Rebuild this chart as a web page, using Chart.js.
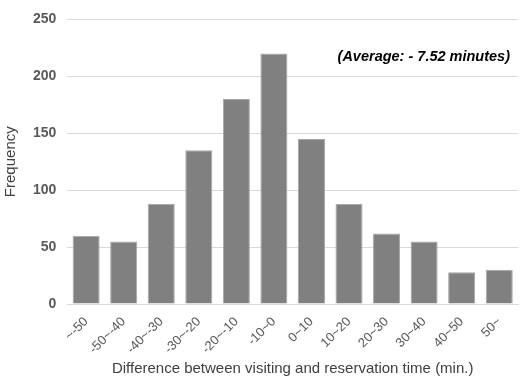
<!DOCTYPE html>
<html><head><meta charset="utf-8">
<script src="https://cdn.jsdelivr.net/npm/chart.js@4/dist/chart.umd.min.js"></script>
<style>html,body{margin:0;padding:0;background:#fff}#w{width:520px;height:381px}</style>
</head><body><div id="w"><canvas id="c"></canvas></div>
<script>
const categories = ["~-50","-50~-40","-40~-30","-30~-20","-20~-10","-10~0","0~10","10~20","20~30","30~40","40~50","50~"];
const frequency = [60,55,88,135,180,220,145,88,62,55,28,30];
const yTicks = [0,50,100,150,200,250];
const note = "(Average: - 7.52 minutes)";

const notePlugin = {
  id:'note',
  afterDatasetsDraw(chart){
    const {ctx, chartArea} = chart;
    ctx.save();
    ctx.font = 'italic bold 14.5px "Liberation Sans", Arial, sans-serif';
    ctx.fillStyle = '#000';
    ctx.textAlign = 'right';
    ctx.textBaseline = 'middle';
    ctx.fillText(note, chartArea.right - 8, chart.scales.y.getPixelForValue(217));
    ctx.restore();
  }
};

new Chart(document.getElementById('c'), {
  type:'bar',
  data:{labels:categories, datasets:[{data:frequency, backgroundColor:'#808080', borderColor:'#a6a6a6', borderWidth:1, barPercentage:0.72, categoryPercentage:1}]},
  options:{
    responsive:true, maintainAspectRatio:false, animation:false,
    layout:{padding:{left:2,right:2,top:4,bottom:3}},
    plugins:{legend:{display:false}, tooltip:{enabled:false}},
    scales:{
      x:{
        grid:{display:false},
        border:{color:'#d9d9d9', width:1},
        ticks:{color:'#595959', font:{family:'"Liberation Sans", Arial, sans-serif', size:13}, maxRotation:45, minRotation:45, padding:2},
        title:{display:true, text:'Difference between visiting and reservation time (min.)', color:'#404040', font:{family:'"Liberation Sans", Arial, sans-serif', size:15}, padding:{top:1,bottom:0}}
      },
      y:{
        min:0, max:250,
        afterBuildTicks(s){ s.ticks = yTicks.map(v=>({value:v})); },
        grid:{color:'#d9d9d9', drawTicks:false},
        border:{display:false},
        ticks:{color:'#595959', font:{family:'"Liberation Sans", Arial, sans-serif', size:14, weight:'bold'}, padding:11},
        title:{display:true, text:'Frequency', color:'#404040', font:{family:'"Liberation Sans", Arial, sans-serif', size:15}, padding:{top:0,bottom:2}}
      }
    }
  },
  plugins:[notePlugin]
});
</script></body></html>
